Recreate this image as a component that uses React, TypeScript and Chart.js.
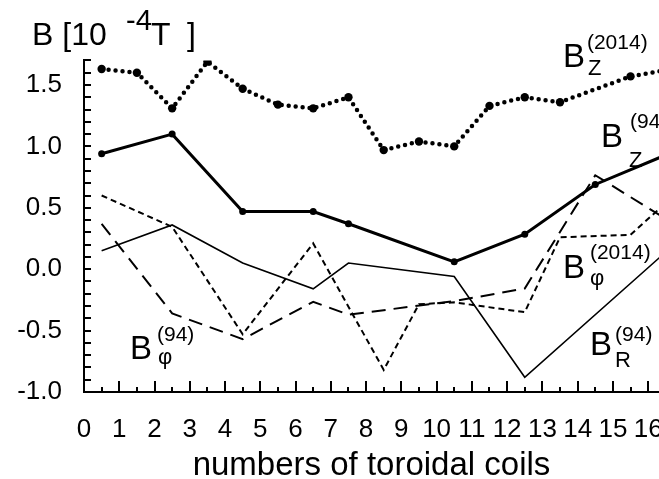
import React, { useEffect, useRef } from "react";
import { Chart, registerables } from "chart.js";

Chart.register(...registerables);

const FONT = '"Liberation Sans", Arial, Helvetica, sans-serif';

// ---- data (coil number positions and field values, 10^-4 T) ----
const BZ2014_X = [0.5, 1.5, 2.5, 3.5, 4.5, 5.5, 6.5, 7.5, 8.5, 9.5, 10.5, 11.5, 12.5, 13.5, 15.5, 16.5];
const BZ2014_Y = [1.63, 1.6, 1.31, 1.69, 1.47, 1.34, 1.31, 1.4, 0.97, 1.04, 1.0, 1.33, 1.4, 1.36, 1.57, 1.62];

const BZ94_X = [0.5, 2.5, 4.5, 6.5, 7.5, 10.5, 12.5, 14.5, 16.5];
const BZ94_Y = [0.94, 1.1, 0.47, 0.47, 0.37, 0.06, 0.285, 0.69, 0.93];

const BR94_X = [0.5, 2.5, 4.5, 6.5, 7.5, 10.5, 12.5, 16.5];
const BR94_Y = [0.15, 0.36, 0.05, -0.16, 0.05, -0.06, -0.88, 0.14];

const BPHI2014_X = [0.5, 2.5, 4.5, 6.5, 8.5, 9.5, 10.5, 12.5, 13.5, 15.5, 16.5];
const BPHI2014_Y = [0.6, 0.345, -0.53, 0.21, -0.82, -0.285, -0.27, -0.35, 0.26, 0.28, 0.54];

const BPHI94_X = [0.5, 2.5, 4.5, 6.5, 7.5, 10.5, 12.5, 14.5, 16.5];
const BPHI94_Y = [0.37, -0.36, -0.57, -0.265, -0.37, -0.26, -0.157, 0.765, 0.41];

const X_TICK_LABELS = ["0", "1", "2", "3", "4", "5", "6", "7", "8", "9", "10", "11", "12", "13", "14", "15", "16"];
const Y_TICK_VALUES = [-1, -0.5, 0, 0.5, 1, 1.5];
const Y_TICK_LABELS = ["-1.0", "-0.5", "0.0", "0.5", "1.0", "1.5"];

const X_TITLE = "numbers of toroidal coils";

// series annotation labels (anchor in data units, offsets in px)
const SERIES_LABELS = [
  { sub: "Z", sup: "(2014)", x: 13.64, y: 1.647, subDx: 23, subDy: 8, supDx: 22, supDy: -18 },
  { sub: "Z", sup: "(94)", x: 14.72, y: 0.995, subDx: 26, subDy: 20, supDx: 27, supDy: -19 },
  { sub: "φ", sup: "(2014)", x: 13.64, y: -0.072, subDx: 25, subDy: 7, supDx: 25, supDy: -19 },
  { sub: "R", sup: "(94)", x: 14.41, y: -0.7, subDx: 23, subDy: 12, supDx: 23, supDy: -14 },
  { sub: "φ", sup: "(94)", x: 1.36, y: -0.73, subDx: 26, subDy: 5, supDx: 25, supDy: -18 },
];

const toPts = (xs: number[], ys: number[]) => xs.map((x, i) => ({ x, y: ys[i] }));

const CANVAS_W = 760;
const CANVAS_H = 479;
const VIEW_W = 659;
const PLOT_LEFT = 84;
const PLOT_BOTTOM = 392;
const UNIT_X = 35.26;
const UNIT_Y = 122.8;
const X_MAX = 18;
const Y_MIN = -1.0;
const Y_MAX = 1.7;

const decorPlugin = {
  id: "decor",
  afterDraw(chart: any) {
    const { ctx, chartArea, scales } = chart;
    const xs = scales.x;
    const ys = scales.y;
    ctx.save();
    // inward tick marks
    ctx.strokeStyle = "#000";
    ctx.lineWidth = 2;
    ctx.beginPath();
    for (let i = -10; i <= 17; i++) {
      const py = Math.round(ys.getPixelForValue(i / 10));
      ctx.moveTo(chartArea.left, py);
      ctx.lineTo(chartArea.left + 7, py);
    }
    for (let i = 0; i <= X_MAX * 2; i++) {
      const px = Math.round(xs.getPixelForValue(i / 2));
      const len = i % 2 === 0 ? 11 : 5;
      ctx.moveTo(px, chartArea.bottom);
      ctx.lineTo(px, chartArea.bottom - len);
    }
    ctx.stroke();

    ctx.fillStyle = "#000";
    ctx.textBaseline = "alphabetic";
    ctx.textAlign = "left";

    // y unit title
    ctx.font = `32px ${FONT}`;
    ctx.fillText("B [10", 32, 45);
    ctx.font = `29px ${FONT}`;
    ctx.fillText("-4", 126, 30);
    ctx.font = `32px ${FONT}`;
    ctx.fillText("T", 151, 45);
    ctx.fillText("]", 187, 45);

    // series labels
    for (const l of SERIES_LABELS) {
      const bx = xs.getPixelForValue(l.x);
      const by = ys.getPixelForValue(l.y);
      ctx.font = `33px ${FONT}`;
      ctx.fillText("B", bx - 2, by);
      ctx.font = `22px ${FONT}`;
      ctx.fillText(l.sub, bx + l.subDx, by + l.subDy);
      ctx.font = `21px ${FONT}`;
      ctx.fillText(l.sup, bx + l.supDx, by + l.supDy);
    }

    // x axis title (centered on the visible plot area)
    ctx.font = `33px ${FONT}`;
    ctx.textAlign = "center";
    ctx.fillText(X_TITLE, (chartArea.left + VIEW_W) / 2, 475);
    ctx.restore();
  },
};

export default function App() {
  const ref = useRef<HTMLCanvasElement | null>(null);

  useEffect(() => {
    if (!ref.current) return;
    const black = "#000";
    const chart = new Chart(ref.current, {
      type: "line",
      data: {
        datasets: [
          {
            label: "Bz 2014",
            data: toPts(BZ2014_X, BZ2014_Y),
            borderColor: black,
            backgroundColor: black,
            borderWidth: 4.5,
            borderDash: [0, 7],
            borderCapStyle: "round",
            pointRadius: 4.2,
            pointBorderWidth: 0,
            pointBackgroundColor: black,
            tension: 0,
          },
          {
            label: "Bz 94",
            data: toPts(BZ94_X, BZ94_Y),
            borderColor: black,
            backgroundColor: black,
            borderWidth: 3,
            pointRadius: 3.5,
            pointBorderWidth: 0,
            pointBackgroundColor: black,
            tension: 0,
          },
          {
            label: "BR 94",
            data: toPts(BR94_X, BR94_Y),
            borderColor: black,
            borderWidth: 1.6,
            pointRadius: 0,
            tension: 0,
          },
          {
            label: "Bphi 2014",
            data: toPts(BPHI2014_X, BPHI2014_Y),
            borderColor: black,
            borderWidth: 2,
            borderDash: [6, 4],
            pointRadius: 0,
            tension: 0,
          },
          {
            label: "Bphi 94",
            data: toPts(BPHI94_X, BPHI94_Y),
            borderColor: black,
            borderWidth: 2,
            borderDash: [14, 8],
            pointRadius: 0,
            tension: 0,
          },
        ],
      },
      options: {
        animation: false,
        responsive: false,
        devicePixelRatio: 1,
        events: [],
        layout: {
          padding: {
            left: 0,
            top: PLOT_BOTTOM - (Y_MAX - Y_MIN) * UNIT_Y,
            right: CANVAS_W - PLOT_LEFT - X_MAX * UNIT_X,
            bottom: 0,
          },
        },
        plugins: {
          legend: { display: false },
          tooltip: { enabled: false },
          title: { display: false },
        },
        scales: {
          x: {
            type: "linear",
            position: "bottom",
            min: 0,
            max: X_MAX,
            grid: { display: false, drawTicks: false },
            border: { display: true, color: black, width: 2 },
            afterFit: (s: any) => {
              s.height = CANVAS_H - PLOT_BOTTOM;
            },
            ticks: {
              stepSize: 1,
              autoSkip: false,
              maxRotation: 0,
              minRotation: 0,
              padding: 22,
              color: black,
              font: { family: FONT, size: 26 },
              callback: (v: any) => {
                const i = Math.round(Number(v));
                return Math.abs(i - Number(v)) < 1e-9 && X_TICK_LABELS[i] !== undefined ? X_TICK_LABELS[i] : "";
              },
            },
          },
          y: {
            type: "linear",
            position: "left",
            min: Y_MIN,
            max: Y_MAX,
            grid: { display: false, drawTicks: false },
            border: { display: true, color: black, width: 2 },
            afterFit: (s: any) => {
              s.width = PLOT_LEFT;
            },
            ticks: {
              stepSize: 0.5,
              includeBounds: false,
              padding: 22,
              color: black,
              font: { family: FONT, size: 26 },
              callback: (v: any) => {
                const i = Y_TICK_VALUES.findIndex((t) => Math.abs(t - Number(v)) < 1e-9);
                return i >= 0 ? Y_TICK_LABELS[i] : "";
              },
            },
          },
        },
      },
      plugins: [decorPlugin],
    } as any);
    return () => chart.destroy();
  }, []);

  return (
    <div
      style={{
        position: "fixed",
        left: 0,
        top: 0,
        width: VIEW_W,
        height: 479,
        overflow: "hidden",
        background: "#fff",
      }}
    >
      <canvas ref={ref} width={CANVAS_W} height={CANVAS_H} style={{ display: "block", width: CANVAS_W, height: CANVAS_H }} />
    </div>
  );
}
